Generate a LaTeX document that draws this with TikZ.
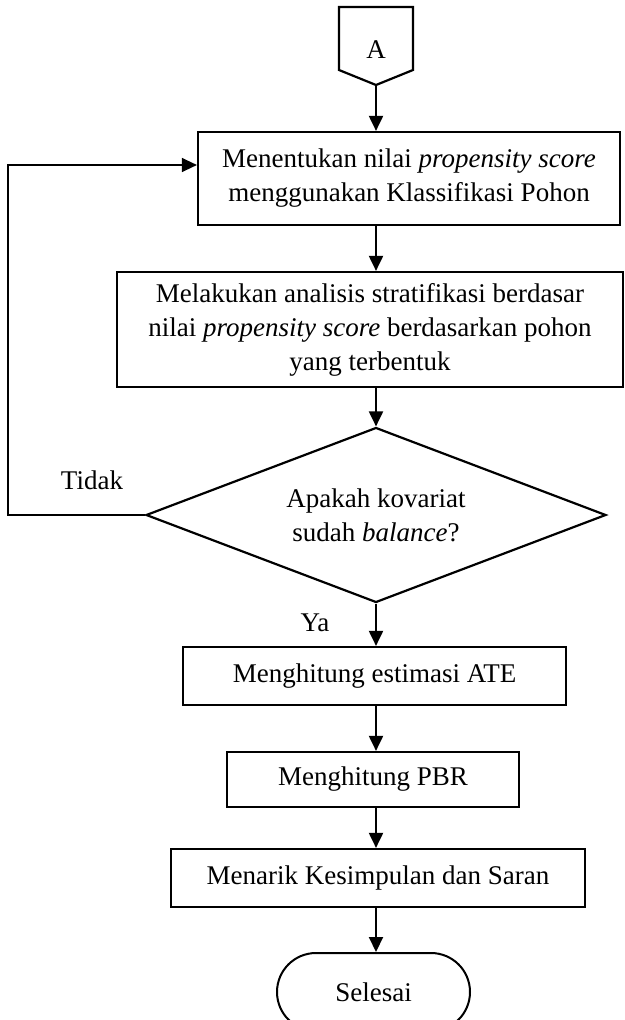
\documentclass[tikz,border=0pt]{standalone}
\usepackage{fontspec}
\setmainfont{Liberation Serif}
\usetikzlibrary{shapes.geometric,arrows.meta}

\begin{document}
\begin{tikzpicture}[x=1pt,y=-1pt,
  font=\fontsize{27}{34}\selectfont,
  proses/.style={rectangle, draw=black, line width=2.2pt, align=center, inner sep=0pt},
  keputusan/.style={diamond, aspect=2.63, draw=black, line width=2.2pt, align=center, inner sep=0pt},
  terminal/.style={rectangle, rounded corners=39pt, draw=black, line width=2pt, inner sep=0pt},
  panah/.style={-{Triangle[width=14pt,length=15pt]}, line width=2pt}]
\useasboundingbox (0,0) rectangle (624,1020);

% konektor halaman
\draw[line width=2.2pt] (339,7) -- (413,7) -- (413,70) -- (376,85) -- (339,70) -- cycle;
\node (konA) at (376,50) {A};
\coordinate (ujungA) at (376,85);
\coordinate (sumbu) at (376,0);

\node[proses, minimum width=422pt, minimum height=93pt] (ps) at (409,178.5)
  {Menentukan nilai \textit{propensity score}\\menggunakan Klassifikasi Pohon};
\node[proses, minimum width=506pt, minimum height=115pt] (strat) at (370,329.5)
  {Melakukan analisis stratifikasi berdasar\\nilai \textit{propensity score} berdasarkan pohon\\yang terbentuk};
\node[keputusan, minimum width=460pt, minimum height=175pt] (cek) at (376,515)
  {Apakah kovariat\\sudah \textit{balance}?};
\node[proses, minimum width=383pt, minimum height=58pt] (ate) at (374.5,676) {Menghitung estimasi ATE};
\node[proses, minimum width=292pt, minimum height=55pt] (pbr) at (373,779.5) {Menghitung PBR};
\node[proses, minimum width=414pt, minimum height=58pt] (simpul) at (378,878) {Menarik Kesimpulan dan Saran};
\node[terminal, minimum width=193pt, minimum height=78pt] (akhir) at (373.5,992) {Selesai};

\node (tidak) at (92,480) {Tidak};
\node (ya) at (315,623) {Ya};

% panah
\draw[panah] (ujungA) -- (ujungA |- ps.north);
\draw[panah] (ps.south -| sumbu) -- (strat.north -| sumbu);
\draw[panah] (strat.south -| sumbu) -- (cek.north);
\draw[panah] (cek.south) -- (ate.north -| sumbu);
\draw[panah] (ate.south -| sumbu) -- (pbr.north -| sumbu);
\draw[panah] (pbr.south -| sumbu) -- (simpul.north -| sumbu);
\draw[panah] (simpul.south -| sumbu) -- (akhir.north -| sumbu);

% kembali jika tidak balance
\coordinate (balik) at (8,165);
\draw[panah, line width=1.3pt] (cek.west) -| (balik) -- (balik -| ps.west);
\end{tikzpicture}
\end{document}
